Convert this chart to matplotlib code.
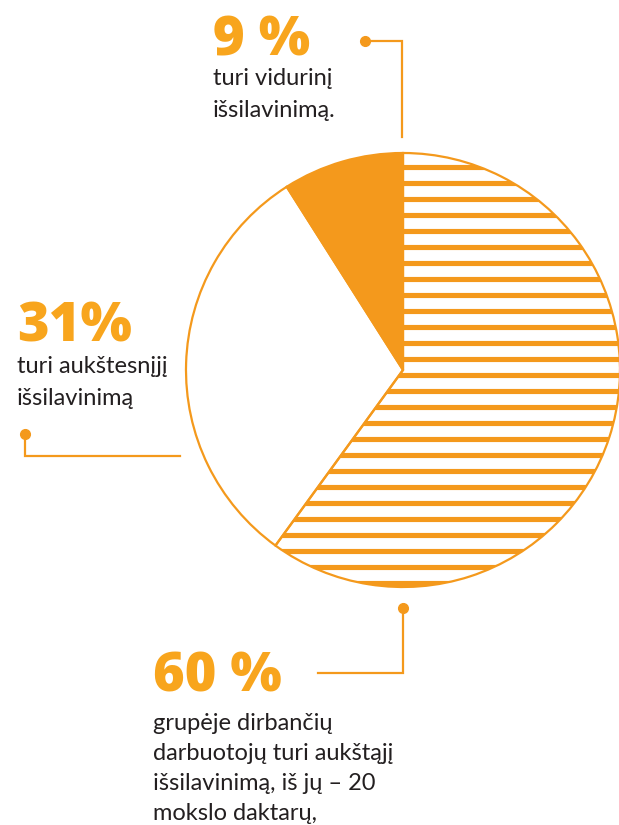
import numpy as np
import matplotlib
matplotlib.use("Agg")
import matplotlib.pyplot as plt

# data
shares = [60, 31, 9]
big_labels = ["60 %", "31%", "9 %"]
captions = [
    ["grupėje dirbančių", "darbuotojų turi aukštąjį", "išsilavinimą, iš jų – 20", "mokslo daktarų,"],
    ["turi aukštesnįjį", "išsilavinimą"],
    ["turi vidurinį", "išsilavinimą."],
]

W, H = 619, 825
ORANGE = "#F4991C"
TXT_OR = "#F8A51D"
DARK = "#231F20"
FONT = ["Lato", "DejaVu Sans"]
BIG_FONT = ["Open Sans", "DejaVu Sans"]

fig = plt.figure(figsize=(W / 100, H / 100), dpi=100)
ax = fig.add_axes([0, 0, 1, 1])

cx, cy, R = 403, H - 370, 217
wedges, _ = ax.pie(shares, colors=["white", "white", ORANGE], startangle=90,
                   counterclock=False, center=(cx, cy), radius=R, frame=True,
                   wedgeprops=dict(edgecolor=ORANGE, linewidth=1.6))

# horizontal stripes inside the big slice
ys = np.arange(cy + R - 14, cy - R, -16)
stripes = ax.hlines(ys, cx - R, cx + R, colors=ORANGE, linewidth=3.7)
stripes.set_clip_path(wedges[0])
wedges[0].set_zorder(3)
wedges[0].set_facecolor("none")

ax.set_xlim(0, W)
ax.set_ylim(0, H)
ax.axis("off")

# labels: (x, baseline of big number, first caption baseline)
label_pos = [(153, 691, 730), (17, 342, 373), (213, 55, 85)]
line_gap = [30, 32, 32]
for i in range(3):
    x, yb, yc = label_pos[i]
    ax.text(x, H - yb, big_labels[i], fontsize=39, fontweight="heavy",
            color=TXT_OR, va="baseline", ha="left", family=BIG_FONT)
    for j, line in enumerate(captions[i]):
        ax.text(x, H - yc - j * line_gap[i], line, fontsize=17, color=DARK,
                va="baseline", ha="left", family=FONT)

# connector lines with dots
connectors = [
    ([403, 403, 318], [608, 673, 673]),
    ([25, 25, 180], [434, 456, 456]),
    ([365, 402, 402], [41, 41, 137]),
]
for xs, yy in connectors:
    yy = [H - v for v in yy]
    ax.plot(xs, yy, color=ORANGE, linewidth=1.6, solid_joinstyle="miter")
    ax.plot(xs[0], yy[0], "o", color=ORANGE, markersize=7)

fig.savefig("out.png", dpi=100)
